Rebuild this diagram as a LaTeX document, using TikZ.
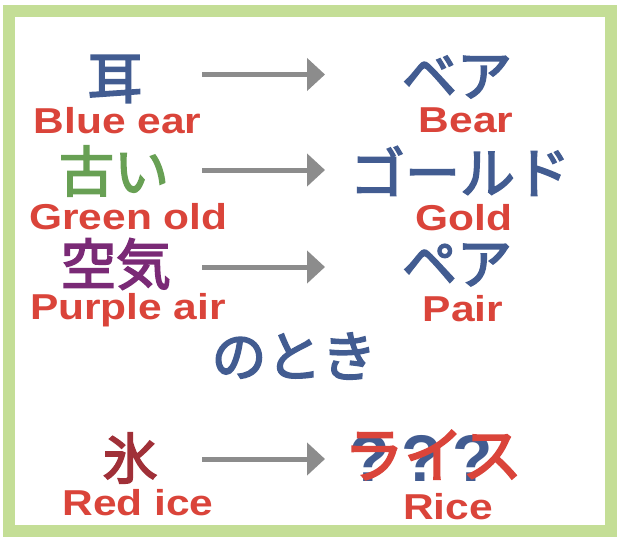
\documentclass[tikz,border=0pt]{standalone}
\usepackage{fontspec}
\setmainfont{Liberation Sans}
\newfontfamily\jp{Noto Sans CJK JP}[FakeBold=3]
\usetikzlibrary{arrows.meta}
\definecolor{myblue}{RGB}{66,92,145}
\definecolor{myred}{RGB}{218,68,58}
\definecolor{mygreen}{RGB}{104,160,84}
\definecolor{mypurple}{RGB}{122,42,118}
\definecolor{mydarkred}{RGB}{160,48,56}
\definecolor{arrgray}{RGB}{140,140,140}
\definecolor{framegreen}{RGB}{196,222,150}
\newcommand\wideText[1]{\scalebox{1.18}[1]{#1}}
\tikzset{
  jpw/.style={inner sep=0pt, font=\jp\fontsize{55}{60}\selectfont},
  en/.style={inner sep=0pt, anchor=base, text=myred, font=\bfseries\fontsize{36}{40}\selectfont},
  qm/.style={inner sep=0pt, text=myblue, font=\bfseries\fontsize{66}{70}\selectfont},
  arr/.style={draw=arrgray, line width=5pt, -{Triangle[length=18pt,width=32pt]}},
  frame/.style={draw=framegreen, line width=12pt}
}
\begin{document}
\begin{tikzpicture}[x=1pt,y=-1pt]
\fill[white] (0,0) rectangle (621,541);
\useasboundingbox (0,0) rectangle (621,541);
\draw[frame] (9,10.5) rectangle (610.5,531);
% row 1
\node[jpw, text=myblue] (mimi) at (115,79) {耳};
\node[en] (blueear) at (117.5,133) {\wideText{Blue ear}};
\coordinate (a1s) at (202,74.5);
\coordinate (a1e) at (325,74.5);
\draw[arr] (a1s) -- (a1e);
\node[jpw, text=myblue] (bea) at (457,77) {ベア};
\node[en] (bear) at (466,132) {\wideText{Bear}};
% row 2
\node[jpw, text=mygreen] (furui) at (114,171) {古い};
\node[en] (greenold) at (128.5,229) {\wideText{Green old}};
\coordinate (a2s) at (202,170);
\coordinate (a2e) at (325,170);
\draw[arr] (a2s) -- (a2e);
\node[jpw, text=myblue] (gold) at (460,171) {ゴールド};
\node[en] (goldtxt) at (464,230) {\wideText{Gold}};
% row 3
\node[jpw, text=mypurple] (kuuki) at (116,264) {空気};
\node[en] (purpleair) at (128,319) {\wideText{Purple air}};
\coordinate (a3s) at (202,267);
\coordinate (a3e) at (325,267);
\draw[arr] (a3s) -- (a3e);
\node[jpw, text=myblue] (pea) at (457,265) {ペア};
\node[en] (pair) at (463,321) {\wideText{Pair}};
% middle
\node[jpw, text=myblue] (notoki) at (294,356) {のとき};
% row 4
\node[jpw, text=mydarkred] (koori) at (130,458) {氷};
\node[en] (redice) at (138,515) {\wideText{Red ice}};
\coordinate (a4s) at (202,459);
\coordinate (a4e) at (325,459);
\draw[arr] (a4s) -- (a4e);
\node[qm] (q1) at (370,458) {?};
\node[qm] (q2) at (422,458) {?};
\node[qm] (q3) at (473,458) {?};
\node[jpw, text=myred, font=\jp\fontsize{60}{64}\selectfont] (raisu) at (433,455) {ライス};
\node[en] (rice) at (448,519) {\wideText{Rice}};
\end{tikzpicture}
\end{document}
